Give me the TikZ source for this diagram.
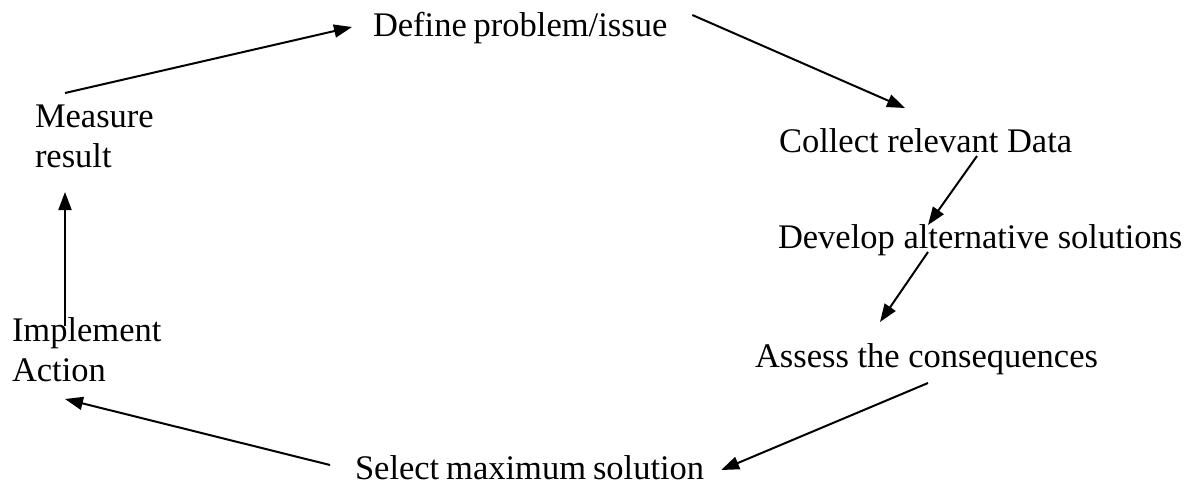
\documentclass[tikz,border=0pt]{standalone}
\usepackage{fontspec}
\setmainfont{Liberation Serif}
\usetikzlibrary{arrows.meta}
\newcommand{\narrowspaces}{\spaceskip=0.2em\relax}
\begin{document}
\begin{tikzpicture}[x=0.5pt,y=-0.5pt,
  lbl/.style={inner sep=0pt,outer sep=0pt,font=\fontsize{17.25}{20}\selectfont,align=left},
  arr/.style={line width=1pt,-{Triangle[length=9pt,width=6.5pt]}}]
\useasboundingbox (0,0) rectangle (1188,494);
% cycle steps
\node[lbl,anchor=base west] (def) at (373,36) {\narrowspaces Define problem/issue};
\node[lbl,anchor=base west] (col) at (779,152) {Collect relevant Data};
\node[lbl,anchor=base west] (dev) at (778,248) {Develop alternative solutions};
\node[lbl,anchor=base west] (ass) at (755,367) {Assess the consequences};
\node[lbl,anchor=base west] (sel) at (355,479) {\narrowspaces Select maximum solution};
\node[lbl,anchor=north west] (mea) at (35,105) {Measure\\result};
\node[lbl,anchor=north west] (imp) at (12,318) {Implement\\Action};
% arrows between steps
\draw[arr] ([shift={(30,-12)}]mea.north west) -- ([shift={(-21,-9)}]def.base west);
\draw[arr] ([shift={(25,-21)}]def.base east) -- ([shift={(126,-44)}]col.base west);
\draw[arr] ([shift={(198,4)}]col.base west) -- ([shift={(150,-23)}]dev.base west);
\draw[arr] ([shift={(150,4)}]dev.base west) -- ([shift={(125,-45)}]ass.base west);
\draw[arr] ([shift={(173,16)}]ass.base west) -- ([shift={(17,-9)}]sel.base east);
\draw[arr] ([shift={(-25,-14)}]sel.base west) -- ([shift={(53,81)}]imp.north west);
\draw[arr] ([shift={(53,8)}]imp.north west) -- ([shift={(30,87)}]mea.north west);
\end{tikzpicture}
\end{document}
